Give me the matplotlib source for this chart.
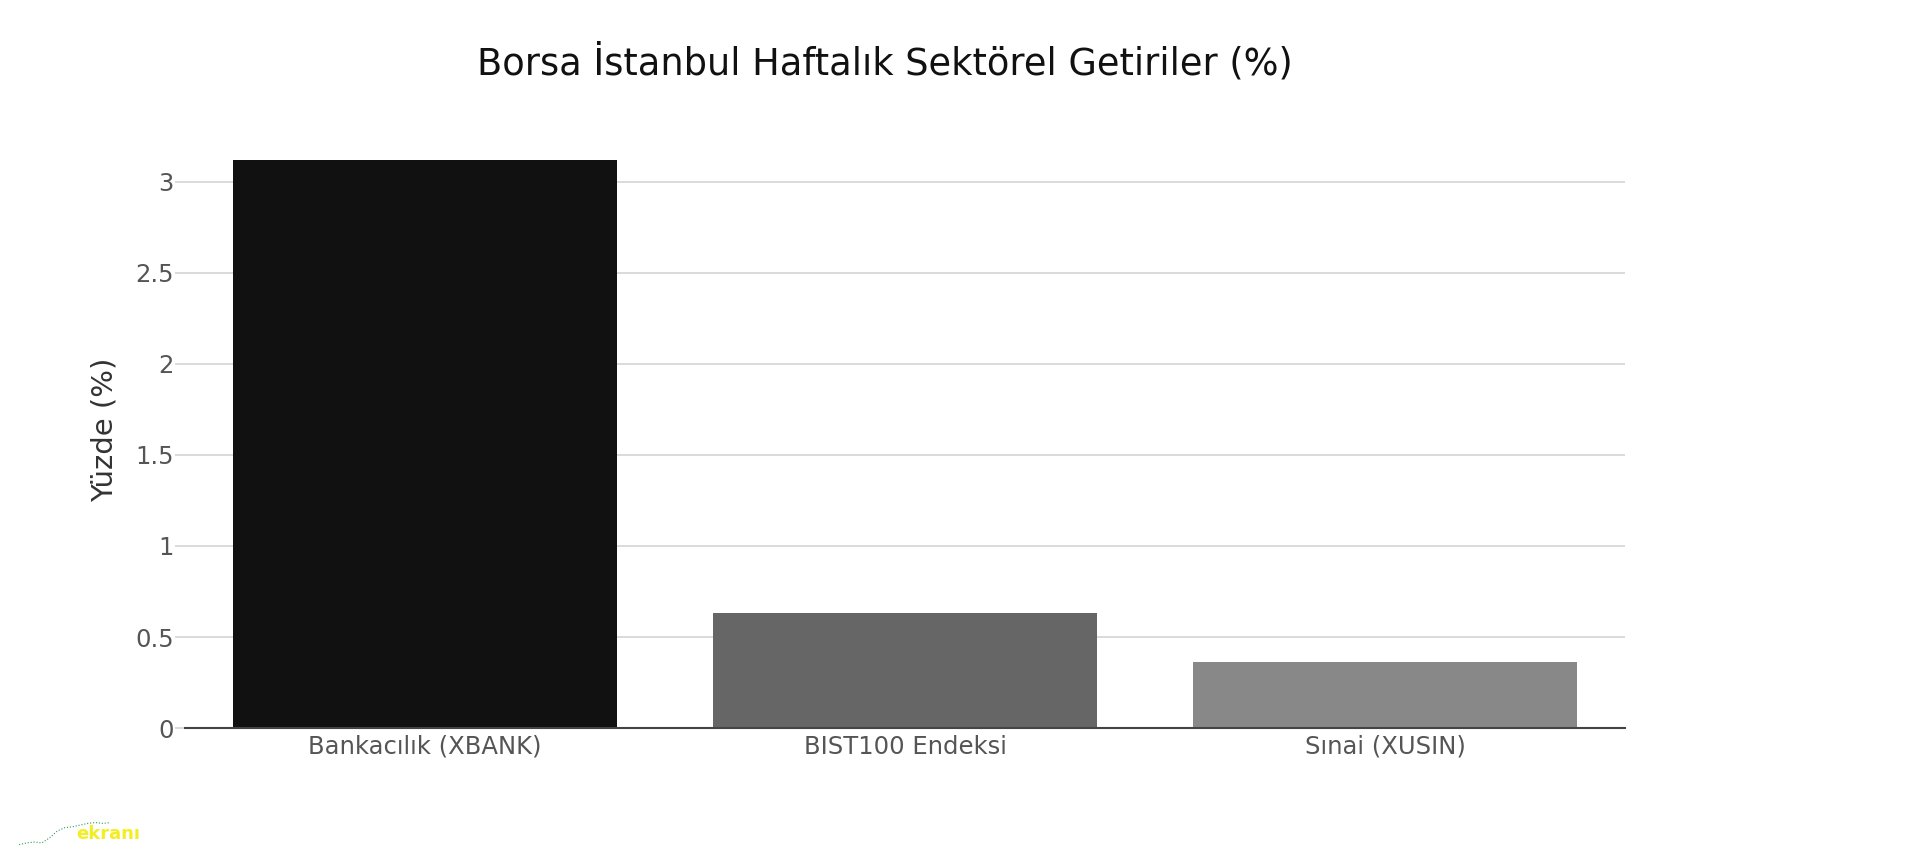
import matplotlib.pyplot as plt

categories = ['Bankacılık (XBANK)', 'BIST100 Endeksi', 'Sınai (XUSIN)']
returns = [3.12, 0.63, 0.36]
bar_colors = ['#111111', '#666666', '#888888']
y_ticks = [0, 0.5, 1, 1.5, 2, 2.5, 3]
y_tick_labels = ['0', '0.5', '1', '1.5', '2', '2.5', '3']

plt.rcParams['font.family'] = ['DejaVu Sans']

fig = plt.figure(figsize=(19.06, 8.48), dpi=100)
ax = fig.add_axes([0.0971, 0.1415, 0.7555, 0.704])

ax.bar(range(len(categories)), returns, width=0.8, color=bar_colors, zorder=3)
ax.set_xlim(-0.5, len(categories) - 0.5)
ax.set_ylim(0, 3.28)

ax.set_yticks(y_ticks)
ax.set_yticklabels(y_tick_labels)
ax.set_xticks(range(len(categories)))
ax.set_xticklabels(categories)
ax.grid(axis='y', color='#d8d8d8', linewidth=1.3, zorder=0)

for side in ['top', 'right', 'left']:
    ax.spines[side].set_visible(False)
ax.spines['bottom'].set_color('#444444')
ax.spines['bottom'].set_linewidth(1.5)
ax.spines['bottom'].set_zorder(4)

ax.tick_params(axis='y', length=7, color='#d8d8d8', width=1.3, labelsize=17.5,
               labelcolor='#555555', pad=1)
ax.tick_params(axis='x', length=0, labelsize=17.5, labelcolor='#555555', pad=5)

ax.set_ylabel('Yüzde (%)', fontsize=21, color='#333333', labelpad=12)
fig.text(0.4645, 0.925, 'Borsa İstanbul Haftalık Sektörel Getiriler (%)',
         ha='center', va='center', fontsize=26.5, color='#111111')

# small logo in the bottom-left corner
fig.text(0.040, 0.006, 'ekranı', fontsize=13, fontweight='bold',
         color='#f2ee22', ha='left', va='bottom')
logo_x = [0.002, 0.006, 0.010, 0.014, 0.018, 0.022, 0.026, 0.030, 0.034, 0.038, 0.042, 0.046, 0.050]
logo_y = [0.002, 0.004, 0.005, 0.004, 0.010, 0.018, 0.022, 0.023, 0.025, 0.027, 0.028, 0.027, 0.028]
fig.add_artist(plt.Line2D([0.008 + v for v in logo_x], [0.002 + v for v in logo_y],
                          color='#2e9e5a', linewidth=0.8, linestyle=':',
                          transform=fig.transFigure))

fig.savefig('out.png', dpi=100)
